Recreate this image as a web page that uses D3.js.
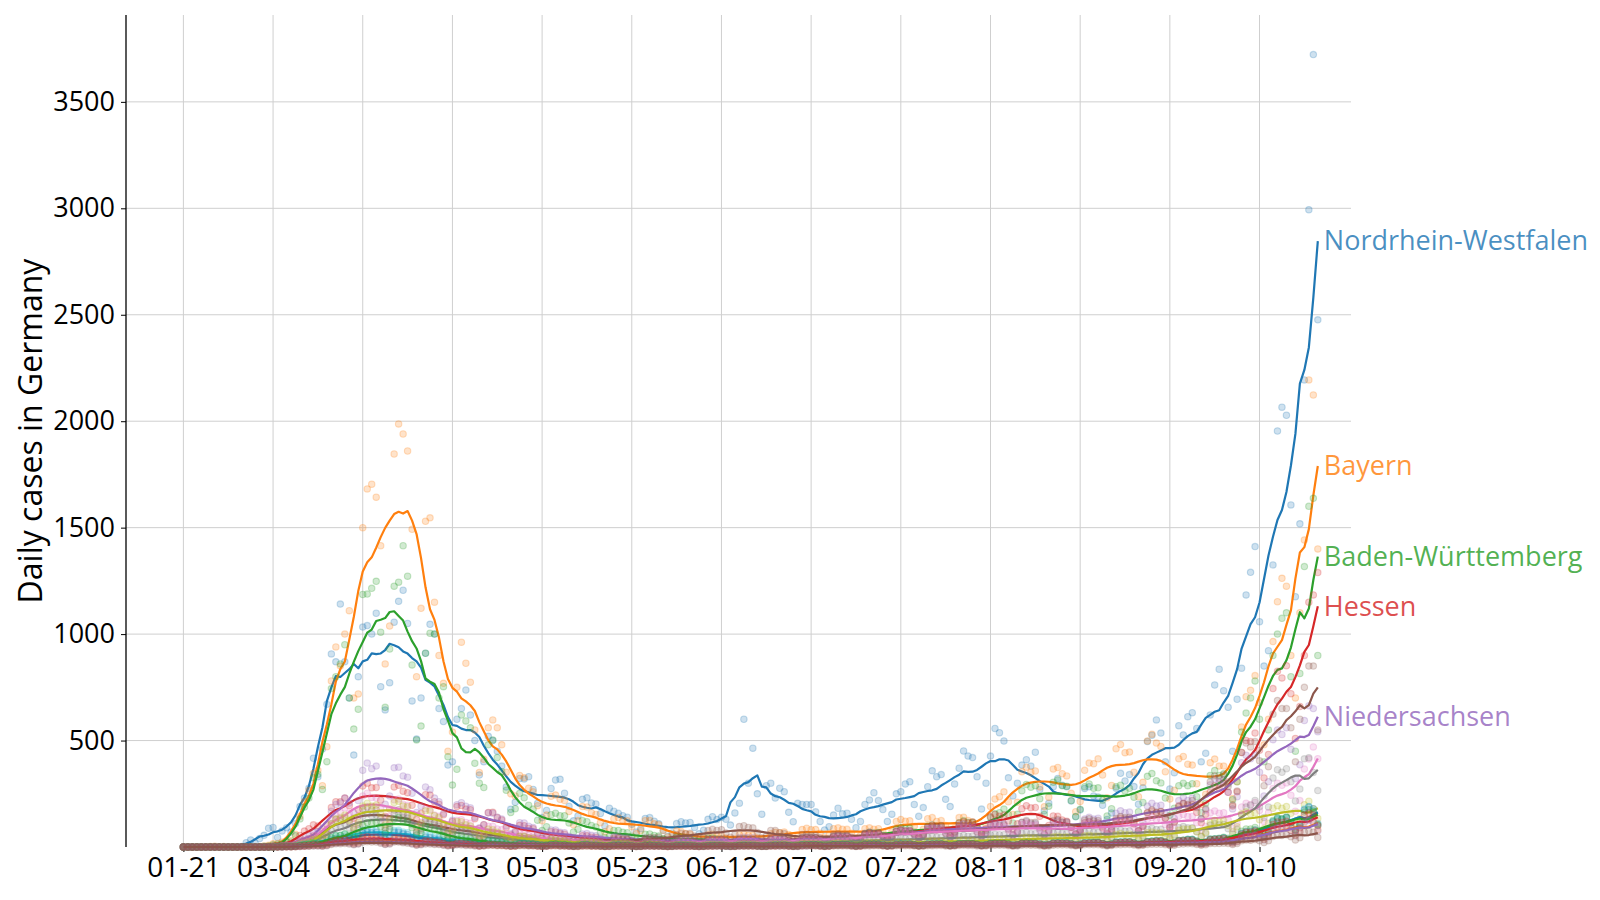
<!DOCTYPE html>
<html><head><meta charset="utf-8">
<script src="https://cdn.jsdelivr.net/npm/d3@7"></script>
<style>body{margin:0;background:#fff;} svg{display:block;}</style>
</head><body>
<svg id="chart" width="1600" height="900"></svg>
<script>
// ---------- data ----------
const tickIndex  = [0,20,40,60,80,100,120,140,160,180,200,220,240];
const tickLabels = ["01-21","03-04","03-24","04-13","05-03","05-23","06-12","07-02","07-22","08-11","08-31","09-20","10-10"];
const yTicks = [500,1000,1500,2000,2500,3000,3500];
const yLabel = "Daily cases in Germany";

const states = ["Nordrhein-Westfalen","Bayern","Baden-Württemberg","Hessen","Niedersachsen",
  "Berlin","Rheinland-Pfalz","Sachsen","Hamburg","Schleswig-Holstein",
  "Thüringen","Brandenburg","Saarland","Sachsen-Anhalt","Bremen","Mecklenburg-Vorpommern"];
const colors = ["#1f77b4","#ff7f0e","#2ca02c","#d62728","#9467bd","#8c564b","#e377c2","#7f7f7f","#bcbd22","#17becf",
  "#1f77b4","#ff7f0e","#2ca02c","#d62728","#9467bd","#8c564b"];
const labeled = ["Nordrhein-Westfalen","Bayern","Baden-Württemberg","Hessen","Niedersachsen"];

// daily new cases per state (index = reporting day)
const nrw = [0,0,0,0,0,0,0,0,0,0,0,0,0,2,20,33,18,40,55,88,92,
45,75,90,70,110,190,230,
276,417,330,460,670,907,870,
1141,870,700,432,800,1033,1040,
1000,1098,753,644,772,1056,1154,
1206,1050,686,507,700,910,1046,
1000,650,589,385,400,600,650,
737,620,500,338,400,520,500,
450,380,282,177,210,322,319,
330,270,205,138,172,275,315,
318,253,191,123,146,224,231,
207,202,157,99,182,168,158,
147,140,107,70,86,134,138,
121,109,79,51,66,110,119,
113,115,92,62,79,130,142,
129,140,130,103,160,206,600,
300,464,250,154,288,300,230,
276,260,163,119,205,200,200,
200,165,120,80,95,150,182,
156,159,130,91,120,200,221,
255,218,176,120,154,250,260,
296,307,200,144,185,283,358,
330,340,224,190,296,370,451,
427,420,330,178,300,427,557,
537,498,325,240,300,385,410,
380,445,270,170,206,283,322,
290,283,216,142,174,275,283,
240,235,196,129,160,276,346,
310,340,284,201,278,495,525,
597,535,400,273,349,570,526,
612,631,557,400,440,620,761,
835,734,656,450,694,840,1184,
1290,1411,1058,850,922,1325,1954,
2066,2028,1607,1176,1518,2194,2993,
3722,2476];

const bayern = [0,0,0,0,0,1,2,3,1,2,0,1,0,0,0,0,0,2,5,8,15,
17,23,27,30,60,144,212,
265,345,360,288,471,780,940,
850,1000,1110,700,719,1500,1682,
1704,1643,1415,860,1038,1846,1987,
1940,1860,1492,800,1121,1530,1546,
1150,900,769,450,540,750,962,
863,774,550,350,412,560,597,
560,480,351,250,240,336,325,
276,259,194,123,150,238,244,
224,219,167,105,124,190,188,
161,153,114,72,86,133,138,
124,123,95,63,78,124,125,
109,104,77,47,53,76,73,
63,60,45,29,36,58,60,
54,54,42,28,35,58,60,
55,55,43,29,38,62,69,
67,71,59,40,51,82,88,
81,82,65,43,54,86,90,
83,83,65,43,54,86,90,
83,86,72,53,71,120,129,
121,123,97,65,83,133,138,
120,124,101,69,88,138,140,
124,118,95,72,105,190,225,
236,259,212,153,210,354,375,
351,357,282,189,234,366,374,
344,334,252,166,214,360,394,
391,414,338,231,289,462,481,
443,446,351,236,304,498,530,
488,472,354,225,266,414,425,
389,385,297,198,248,396,413,
380,380,306,228,307,564,706,
736,805,678,480,600,965,1152,
1262,1225,900,700,1100,1442,2194,
2123,1400];

const bw = [0,0,0,0,0,0,0,0,0,0,0,0,0,0,0,0,0,1,3,5,10,
12,17,23,24,53,132,188,
230,325,342,270,401,744,800,
860,950,700,554,647,1186,1188,
1215,1248,1009,656,930,1225,1244,
1415,1272,855,503,568,910,1004,
1000,700,753,424,291,365,620,
592,560,393,300,280,480,503,
420,354,266,162,180,252,231,
196,178,126,78,95,152,159,
147,147,113,71,83,124,119,
101,94,69,43,51,78,78,
69,67,50,32,39,60,61,
54,52,39,25,30,47,48,
43,41,32,21,26,42,43,
38,38,30,19,24,38,40,
37,36,28,18,23,36,38,
36,37,30,20,26,43,46,
44,44,35,24,30,49,51,
48,51,41,29,38,62,69,
66,68,55,38,50,84,91,
86,89,70,47,60,98,104,
98,100,79,54,69,114,123,
115,116,92,62,79,138,156,
161,178,153,113,154,264,294,
281,288,227,153,191,304,315,
288,285,218,143,177,283,296,
276,278,220,146,180,283,290,
263,276,234,166,209,332,345,
311,301,230,149,182,288,300,
288,297,236,161,206,336,359,
336,344,297,222,307,540,629,
700,780,600,400,550,900,1000,
1074,1100,800,450,815,1317,1600,
1638,900];

const hessen = [0,0,0,0,0,0,0,0,0,0,0,0,0,0,0,0,0,0,0,2,5,
6,9,11,12,23,54,75,
86,104,99,75,105,186,213,
213,230,194,135,176,286,300,
278,279,220,145,179,282,290,
262,255,196,129,158,246,244,
213,201,151,97,120,190,195,
178,175,133,87,105,162,163,
138,127,90,57,68,102,100,
87,86,63,40,47,72,71,
63,60,45,29,35,53,53,
46,45,34,22,27,42,43,
36,35,27,17,21,34,34,
29,29,22,14,18,30,31,
30,30,23,16,20,34,35,
33,35,27,18,23,36,38,
35,35,27,18,23,37,40,
38,39,31,21,27,43,46,
44,44,35,24,30,49,53,
48,49,41,28,36,60,65,
62,63,51,35,45,74,80,
76,78,63,43,56,94,103,
98,101,81,55,70,113,119,
113,117,95,66,86,142,153,
145,150,122,84,109,180,194,
184,186,144,90,101,146,144,
127,121,90,59,72,114,119,
110,113,90,61,78,126,135,
129,132,108,76,98,160,169,
161,167,135,93,119,194,206,
196,200,162,114,154,258,288,
276,299,257,192,259,444,500,
495,535,455,324,435,744,825,
794,851,720,510,660,900,1150,
1184,1289];

const nieders = [0,0,0,0,0,0,0,0,0,0,0,0,0,0,0,0,0,0,0,0,3,
5,7,9,9,15,30,38,
52,69,72,57,83,168,200,
207,230,207,161,218,360,394,
368,380,304,201,240,372,375,
334,328,252,162,191,282,269,
230,213,157,102,126,199,208,
191,184,140,90,105,160,159,
140,132,99,63,75,114,113,
98,92,68,43,53,80,80,
69,67,50,33,40,61,63,
55,53,41,26,32,49,50,
44,43,32,21,26,41,41,
38,37,28,18,23,36,38,
35,35,27,18,23,36,38,
36,37,30,20,26,43,46,
44,44,33,22,26,41,41,
38,38,30,20,26,43,46,
44,45,36,25,32,52,55,
52,53,42,29,38,62,68,
63,64,51,35,45,74,80,
75,76,61,42,54,89,95,
90,92,74,50,63,102,108,
100,101,80,54,68,110,116,
108,109,86,58,73,115,119,
109,109,86,57,72,116,123,
115,117,94,64,81,132,140,
131,135,108,74,96,158,170,
161,164,131,90,116,192,206,
193,196,155,105,134,218,233,
219,230,189,133,174,292,319,
305,316,257,179,236,396,431,
414,431,351,240,307,504,550,
529,560,459,320,386,594,663,
650,541];

const berlin = [0,0,0,0,0,0,0,0,0,0,0,0,0,0,0,0,0,0,0,0,2,
3,6,7,7,12,24,31,
40,52,50,41,60,110,131,
132,140,117,82,107,178,188,
175,175,136,90,111,174,175,
155,150,113,72,86,132,131,
115,109,83,53,64,98,99,
86,83,62,39,47,70,69,
60,58,43,28,33,50,50,
44,43,32,21,26,41,41,
37,36,27,18,22,34,35,
32,32,25,17,23,36,39,
36,37,29,20,26,42,45,
44,46,38,26,35,58,64,
62,64,52,36,47,77,83,
78,81,66,46,59,96,100,
92,90,68,43,51,78,78,
67,63,48,31,38,59,60,
55,55,43,29,36,59,61,
58,58,46,31,40,65,69,
64,66,52,35,45,73,78,
71,72,58,39,50,82,88,
81,82,65,44,56,90,95,
89,90,72,49,63,102,108,
101,104,83,56,71,116,124,
115,116,92,61,77,124,129,
118,118,93,62,79,126,133,
123,124,98,66,83,134,143,
138,140,112,76,98,162,175,
163,167,135,91,116,190,204,
201,219,185,132,180,306,335,
322,339,284,198,263,444,488,
470,495,405,288,377,624,688,
650,650,560,400,600,750,850,
850,550];

const rlp = [0,0,0,0,0,0,0,0,0,0,0,0,0,0,0,0,0,0,0,0,2,
3,6,7,7,12,24,31,
40,55,54,45,68,126,150,
161,184,158,111,146,240,253,
232,230,178,117,143,222,225,
201,196,149,96,116,180,175,
150,144,108,69,83,126,128,
115,112,84,54,65,98,98,
85,81,59,37,44,66,65,
55,53,40,25,30,46,45,
40,39,30,19,23,36,35,
31,30,23,14,17,26,26,
23,23,17,11,14,22,23,
21,21,16,11,14,23,25,
23,23,19,13,17,26,28,
28,28,23,15,19,30,31,
29,29,23,15,19,31,33,
31,32,25,17,23,36,39,
37,38,30,20,26,43,46,
44,46,37,25,33,54,58,
55,58,46,32,41,68,74,
69,71,57,39,50,82,88,
81,82,65,44,56,90,95,
89,90,71,48,61,98,103,
95,97,77,52,65,106,110,
101,101,79,52,65,102,106,
98,98,77,52,66,107,113,
105,106,84,56,71,116,123,
115,117,93,63,80,130,138,
129,130,104,70,89,144,153,
143,144,114,77,98,160,169,
159,161,128,87,113,188,206,
200,209,171,120,161,275,300,
290,301,243,168,218,366,413,
470,415];

const sachsen = [0,0,0,0,0,0,0,0,0,0,0,0,0,0,0,0,0,0,0,0,0,
2,3,5,4,7,14,19,
23,32,32,27,41,78,94,
98,109,90,65,86,144,156,
147,150,119,79,98,154,156,
140,136,104,66,79,120,119,
104,98,72,46,54,82,81,
71,67,50,31,38,56,56,
48,46,34,22,26,38,39,
33,32,24,16,19,29,29,
25,24,19,12,15,23,23,
20,20,14,10,11,18,19,
16,16,13,8,10,16,16,
14,14,11,7,9,14,15,
14,14,11,8,10,17,18,
17,17,14,10,12,19,21,
20,20,16,11,14,22,23,
21,21,17,11,15,24,26,
25,25,21,14,18,30,33,
30,31,24,17,22,35,38,
36,36,29,20,26,41,44,
40,41,32,22,29,46,49,
46,46,37,25,32,52,55,
51,52,41,28,35,58,60,
58,58,46,31,39,64,68,
63,63,50,33,41,66,69,
64,64,51,34,44,70,74,
69,69,55,37,47,76,80,
75,76,60,41,52,84,88,
82,83,66,44,56,91,96,
90,91,72,49,63,103,110,
104,106,86,60,83,150,188,
196,219,189,138,188,324,363,
351,368,306,216,272,414,419,
350,265];

const hamburg = [0,0,0,0,0,0,0,0,0,0,0,0,0,0,0,0,0,0,0,0,0,
2,3,5,5,8,16,19,
25,35,41,36,56,108,131,
138,150,126,90,116,192,206,
193,197,156,105,131,209,215,
193,189,144,93,111,170,169,
147,138,104,66,79,120,119,
104,99,74,47,56,84,81,
69,63,45,28,34,50,50,
44,41,31,19,23,34,33,
29,28,21,13,16,24,24,
21,20,15,10,12,18,19,
16,16,12,8,9,14,15,
13,13,9,6,8,12,13,
12,12,9,6,8,12,13,
12,12,9,7,8,13,14,
13,13,11,7,9,14,15,
14,15,12,8,10,17,18,
16,16,14,9,11,18,20,
18,18,14,10,13,20,23,
21,21,17,11,15,24,25,
24,24,20,13,17,28,30,
28,29,23,16,20,32,34,
32,32,26,18,23,37,40,
37,38,31,21,26,43,46,
44,44,35,24,30,48,51,
47,48,38,26,32,53,55,
52,52,41,28,36,59,63,
59,60,48,32,41,67,70,
66,67,54,37,48,79,85,
83,87,72,51,68,114,125,
118,124,101,72,95,156,165,
155,159,128,87,111,182,194,
182,190,158,113,134,199,215,
180,134];

const sh = [0,0,0,0,0,0,0,0,0,0,0,0,0,0,0,0,0,0,0,0,0,
1,2,3,2,5,10,13,
15,20,20,16,24,44,53,
54,60,51,37,48,79,85,
81,81,62,41,50,78,79,
70,67,50,31,38,56,55,
47,45,33,21,25,38,38,
33,32,24,16,18,28,28,
23,22,16,10,12,18,18,
15,14,11,7,8,12,13,
10,10,8,5,6,10,10,
8,8,6,4,5,8,9,
8,8,6,4,5,8,9,
7,7,5,4,5,7,8,
7,7,5,4,5,7,8,
8,8,6,4,5,8,9,
8,8,6,4,5,8,9,
9,9,7,5,6,10,10,
10,10,8,5,7,11,11,
12,12,9,6,8,12,13,
13,13,10,7,8,13,14,
14,14,11,7,9,14,15,
15,15,12,8,10,16,16,
16,16,13,8,11,17,18,
17,17,14,9,11,18,19,
18,18,14,10,12,19,20,
20,20,15,10,13,20,21,
22,22,17,11,14,23,24,
25,25,20,13,17,26,28,
29,29,23,15,19,30,31,
35,35,27,18,23,36,38,
40,43,36,26,35,62,71,
71,78,68,49,68,118,131,
129,138,115,81,107,178,190,
170,102];

const thueringen = [0,0,0,0,0,0,0,0,0,0,0,0,0,0,0,0,0,0,0,0,0,
1,1,2,2,3,6,9,
10,14,14,12,18,34,40,
41,46,40,29,39,66,71,
67,69,54,36,44,70,70,
62,59,43,27,32,47,45,
38,36,26,16,19,28,28,
23,22,16,10,12,18,18,
15,14,10,6,8,11,11,
9,9,7,5,6,10,10,
8,8,6,4,5,8,9,
7,7,5,4,5,7,8,
6,6,5,3,4,6,6,
6,6,5,3,4,6,6,
6,6,5,3,4,6,6,
7,7,5,4,5,7,8,
7,7,5,4,5,7,8,
8,8,6,4,5,8,9,
9,9,7,5,6,10,10,
10,10,8,5,7,11,11,
12,12,9,6,8,12,13,
13,13,10,7,8,13,14,
14,14,11,7,9,14,15,
15,15,12,8,10,16,16,
16,16,13,8,11,17,18,
17,17,14,9,11,18,19,
18,18,14,10,12,19,20,
21,21,16,11,14,22,23,
24,24,19,13,16,25,26,
29,29,23,15,19,30,31,
35,35,27,18,23,36,38,
39,43,36,26,36,64,73,
74,81,69,50,69,120,135,
132,140,115,80,105,174,188,
180,110];

const brandenburg = [0,0,0,0,0,0,0,0,0,0,0,0,0,0,0,0,0,0,0,0,0,
0,1,1,1,2,4,5,
6,8,8,7,10,18,22,
23,25,22,16,20,34,36,
35,35,27,18,22,34,34,
30,29,22,13,16,24,23,
20,18,14,8,10,14,15,
13,12,9,5,7,10,10,
8,8,6,4,5,8,9,
7,7,5,4,5,7,8,
6,6,5,3,4,6,6,
5,5,4,2,3,5,5,
5,5,4,2,3,5,5,
5,5,4,2,3,5,5,
5,5,4,2,3,5,5,
6,6,5,3,4,6,6,
6,6,5,3,4,6,6,
7,7,5,4,5,7,8,
7,7,5,4,5,7,8,
8,8,6,4,5,8,9,
9,9,7,5,6,10,10,
10,10,8,5,7,11,11,
12,12,9,6,8,12,13,
13,13,10,7,8,13,14,
14,14,11,7,9,14,15,
14,14,11,7,9,14,15,
15,15,12,8,10,16,16,
16,16,13,8,11,17,18,
18,18,14,10,12,19,20,
21,21,16,11,14,22,23,
24,24,19,13,16,25,26,
28,30,25,19,26,44,51,
52,58,50,36,49,84,94,
92,97,79,55,72,120,129,
120,80];

const saarland = [0,0,0,0,0,0,0,0,0,0,0,0,0,0,0,0,0,0,0,0,0,
1,1,2,2,3,7,10,
12,16,16,14,23,43,53,
55,63,56,42,59,102,115,
113,117,95,65,83,133,138,
124,121,90,57,66,98,95,
81,75,54,33,38,55,53,
44,40,29,18,21,31,30,
25,23,16,10,12,18,18,
14,14,11,7,9,14,15,
12,12,9,6,8,12,13,
9,9,7,5,6,10,10,
8,8,6,4,5,8,9,
7,7,5,4,5,7,8,
7,7,5,4,5,7,8,
7,7,5,4,5,7,8,
8,8,6,4,5,8,9,
9,9,7,5,6,10,10,
10,10,8,5,7,11,11,
12,12,9,6,8,12,13,
13,13,10,7,8,13,14,
14,14,11,7,9,14,15,
15,15,12,8,10,16,16,
16,16,13,8,11,17,18,
17,17,14,9,11,18,19,
18,18,14,10,12,19,20,
20,20,15,10,13,20,21,
22,22,17,11,14,23,24,
25,25,20,13,17,26,28,
30,30,23,16,20,31,33,
36,36,28,19,23,37,39,
41,46,41,30,42,74,85,
85,92,77,55,74,125,138,
133,140,113,78,101,164,175,
165,105];

const sachsenAnhalt = [0,0,0,0,0,0,0,0,0,0,0,0,0,0,0,0,0,0,0,0,0,
0,1,1,1,2,5,6,
8,10,11,9,14,25,30,
31,35,30,21,28,46,49,
46,46,36,23,29,44,45,
40,38,28,17,20,30,29,
24,23,16,10,12,18,18,
15,14,10,6,8,11,11,
9,9,7,5,6,10,10,
8,8,6,4,5,8,9,
7,7,5,4,5,7,8,
6,6,5,3,4,6,6,
6,6,5,3,4,6,6,
5,5,4,2,3,5,5,
5,5,4,2,3,5,5,
6,6,5,3,4,6,6,
6,6,5,3,4,6,6,
7,7,5,4,5,7,8,
8,8,6,4,5,8,9,
9,9,7,5,6,10,10,
10,10,8,5,7,11,11,
12,12,9,6,8,12,13,
13,13,10,7,8,13,14,
14,14,11,7,9,14,15,
15,15,12,8,10,16,16,
16,16,13,8,11,17,18,
17,17,14,9,11,18,19,
20,20,15,10,13,20,21,
23,23,18,12,15,24,25,
28,28,22,14,18,29,30,
32,32,25,17,21,34,35,
37,40,34,25,35,60,69,
69,75,63,46,62,106,118,
115,121,99,69,90,150,160,
150,100];

const bremen = [0,0,0,0,0,0,0,0,0,0,0,0,0,0,0,0,0,0,0,0,0,
0,0,1,1,2,2,4,
5,6,6,5,8,16,19,
20,22,19,13,17,29,31,
29,29,23,14,18,28,28,
24,23,17,11,13,19,19,
16,15,11,7,8,12,13,
10,10,8,5,7,11,11,
9,9,7,5,6,10,10,
8,8,6,4,5,8,9,
7,7,5,4,5,7,8,
6,6,5,3,4,6,6,
5,5,4,2,3,5,5,
5,5,4,2,3,5,5,
5,5,4,2,3,5,5,
5,5,4,2,3,5,5,
6,6,5,3,4,6,6,
6,6,5,3,4,6,6,
7,7,5,4,5,7,8,
8,8,6,4,5,8,9,
9,9,7,5,6,10,10,
10,10,8,5,7,11,11,
12,12,9,6,8,12,13,
12,12,9,6,8,12,13,
13,13,10,7,8,13,14,
14,14,11,7,9,14,15,
15,15,12,8,10,16,16,
16,16,13,8,11,17,18,
18,18,14,10,12,19,20,
21,21,16,11,14,22,23,
24,24,19,13,16,25,26,
28,30,25,18,25,43,50,
51,55,47,34,47,80,90,
87,92,76,53,69,115,125,
115,75];

const mv = [0,0,0,0,0,0,0,0,0,0,0,0,0,0,0,0,0,0,0,0,0,
0,0,1,1,1,2,3,
3,5,5,4,6,12,15,
15,17,14,10,14,23,25,
23,23,18,12,14,23,23,
20,18,14,8,10,14,14,
12,12,8,5,6,10,9,
7,7,5,4,5,7,8,
6,6,5,3,4,6,6,
5,5,4,2,3,5,5,
3,3,3,2,2,4,4,
3,3,3,2,2,4,4,
3,3,3,2,2,4,4,
3,3,3,2,2,4,4,
3,3,3,2,2,4,4,
3,3,3,2,2,4,4,
3,3,3,2,2,4,4,
3,3,3,2,2,4,4,
5,5,4,2,3,5,5,
5,5,4,2,3,5,5,
6,6,5,3,4,6,6,
6,6,5,3,4,6,6,
7,7,5,4,5,7,8,
7,7,5,4,5,7,8,
8,8,6,4,5,8,9,
8,8,6,4,5,8,9,
9,9,7,5,6,10,10,
10,10,8,5,7,11,11,
12,12,9,6,8,12,13,
13,13,10,7,8,13,14,
15,15,12,8,10,16,16,
17,18,16,12,17,29,33,
32,35,29,21,29,49,55,
54,58,48,33,43,71,75,
70,45];

const series = [nrw,bayern,bw,hessen,nieders,berlin,rlp,sachsen,hamburg,sh,
  thueringen,brandenburg,saarland,sachsenAnhalt,bremen,mv];

// ---------- chart ----------
const svg = d3.select("#chart");
svg.append("rect").attr("width",1600).attr("height",900).attr("fill","#fff");

const x = d3.scaleLinear().domain([-12.8, 260.4]).range([126, 1351]);
const y = d3.scaleLinear().domain([0, 3908]).range([847, 15]);
const FONT = "'Open Sans','Noto Sans',sans-serif";

// grid
const grid = svg.append("g");
grid.selectAll(".gx").data(tickIndex).join("line")
  .attr("x1",d=>x(d)).attr("x2",d=>x(d)).attr("y1",y.range()[1]).attr("y2",y.range()[0])
  .attr("stroke","#cfcfcf").attr("stroke-width",1);
grid.selectAll(".gy").data(yTicks).join("line")
  .attr("x1",x.range()[0]).attr("x2",x.range()[1]).attr("y1",d=>y(d)).attr("y2",d=>y(d))
  .attr("stroke","#cfcfcf").attr("stroke-width",1);

// axes
const yAxis = d3.axisLeft(y).tickValues(yTicks).tickSize(5).tickPadding(6).tickFormat(d3.format("d"));
const gy = svg.append("g").attr("transform",`translate(${x.range()[0]},0)`).call(yAxis);
gy.select(".domain").attr("stroke","#000").attr("stroke-width",1.3).attr("d",`M0,${y.range()[1]}V${y.range()[0]}`);
gy.selectAll("text").attr("font-family",FONT).attr("font-size",27).attr("fill","#000");

const xAxis = d3.axisBottom(x).tickValues(tickIndex).tickSize(5).tickPadding(5)
  .tickFormat((d,i)=>tickLabels[i]);
const gx = svg.append("g").attr("transform",`translate(0,${y(0)})`).call(xAxis);
gx.select(".domain").remove();
gx.selectAll("text").attr("font-family",FONT).attr("font-size",28).attr("fill","#000");

svg.append("text").attr("transform",`translate(42,${(y.range()[0]+y.range()[1])/2}) rotate(-90)`)
  .attr("text-anchor","middle").attr("font-family",FONT).attr("font-size",32).attr("fill","#000")
  .text(yLabel);

// centered 7-day rolling mean
function rolling(arr){
  return arr.map((_,i)=>d3.mean(arr.slice(Math.max(0,i-3), Math.min(arr.length,i+4))));
}
const line = d3.line().x((d,i)=>x(i)).y(d=>y(d));
const plot = svg.append("g");
series.forEach((arr,k)=>{
  const c = colors[k];
  plot.append("g").selectAll("circle").data(arr).join("circle")
    .attr("cx",(d,i)=>x(i)).attr("cy",d=>y(d)).attr("r",3.2)
    .attr("fill",c).attr("fill-opacity",0.22)
    .attr("stroke",c).attr("stroke-opacity",0.25).attr("stroke-width",1.1);
  const sm = rolling(arr);
  plot.append("path").datum(sm).attr("d",line).attr("fill","none")
    .attr("stroke",c).attr("stroke-width",2.2).attr("stroke-linejoin","round");
  if (labeled.includes(states[k])) {
    plot.append("text").attr("x",x(arr.length-1)+6).attr("y",y(sm[sm.length-1])).attr("dy","0.35em")
      .attr("font-family",FONT).attr("font-size",27).attr("fill",c).attr("fill-opacity",0.82)
      .text(states[k]);
  }
});
</script>
</body></html>
